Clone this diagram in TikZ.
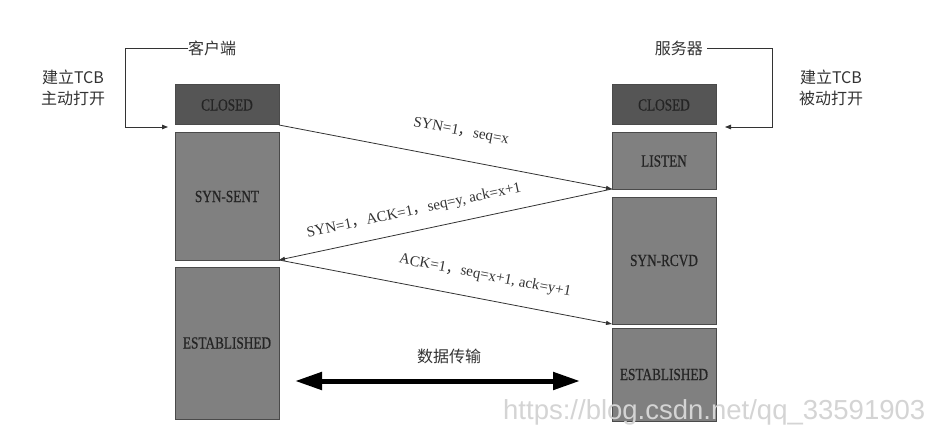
\documentclass[tikz,border=0pt]{standalone}
\usepackage{fontspec}
\setmainfont{Liberation Serif}
\newfontfamily\cjk{Noto Sans CJK SC}
\newfontfamily\boxfont[FakeStretch=0.78,FakeBold=0.6]{Liberation Serif}
\newfontfamily\wmfont{Liberation Sans}
\usetikzlibrary{arrows.meta}
\definecolor{darkbox}{HTML}{555555}
\definecolor{midbox}{HTML}{808080}
\definecolor{boxline}{HTML}{4A4A4A}
\definecolor{boxtxt}{HTML}{242424}
\definecolor{txt}{HTML}{333333}
\definecolor{wm}{HTML}{D4D4D4}
\begin{document}
\begin{tikzpicture}[x=1pt,y=-1pt,
  statebox/.style={draw=boxline, line width=1pt, fill=midbox, minimum width=104pt,
    inner sep=0pt, outer sep=0pt, font=\boxfont\fontsize{17}{17}\selectfont, text=boxtxt},
  closedbox/.style={statebox, fill=darkbox},
  msg/.style={draw=txt, line width=0.8pt, -{Triangle[length=6pt,width=4pt]}},
  msglabel/.style={font=\fontsize{15}{15}\selectfont, text=txt, inner sep=0pt},
  cjklabel/.style={font=\cjk\fontsize{16}{21}\selectfont, text=txt, inner sep=0pt, align=center},
  guide/.style={draw=txt, line width=0.8pt},
  guidearrow/.style={guide, -{Triangle[length=6pt,width=4.5pt]}},
  bigarrow/.style={draw=black, line width=5pt,
    {Triangle[length=27pt,width=17pt]}-{Triangle[length=27pt,width=17pt]}},
  watermark/.style={font=\wmfont\fontsize{27.5}{27.5}\selectfont, text=wm, inner sep=0pt}
]
\useasboundingbox[fill=white] (0,0) rectangle (931,441);

% client boxes
\node[closedbox, minimum height=40pt]  (lc) at (227,105)   {CLOSED};
\node[statebox,  minimum height=127pt] (ls) at (227,196.5) {SYN-SENT};
\node[statebox,  minimum height=152pt] (le) at (227,343)   {ESTABLISHED};
% server boxes
\node[closedbox, minimum height=40pt]  (rc) at (664,105)   {CLOSED};
\node[statebox,  minimum height=56pt]  (rl) at (664,161)   {LISTEN};
\node[statebox,  minimum height=127pt] (rs) at (664,260.5) {SYN-RCVD};
\node[statebox,  minimum height=93pt]  (re) at (664,374.5) {ESTABLISHED};

% headings
\node[cjklabel, anchor=west] (client) at (188,48) {客户端};
\node[cjklabel, anchor=east] (server) at (703,48) {服务器};
\node[cjklabel] (cnote) at (73,88) {建立TCB\\主动打开};
\node[cjklabel] (snote) at (831,88) {建立TCB\\被动打开};

\coordinate (cl1) at (125,48);
\coordinate (cl2) at (125,127);
\coordinate (clt) at (168,127);
\coordinate (sr1) at (772,48);
\coordinate (sr2) at (772,127);
\coordinate (srt) at (725,127);
\draw[guidearrow] (client.west) -- (cl1) -- (cl2) -- (clt);
\draw[guidearrow] ([xshift=4pt]server.east) -- (sr1) -- (sr2) -- (srt);

% handshake messages
\draw[msg] (lc.south east) -- (rl.south west);
\draw[msg] (rl.south west) -- (ls.south east);
\draw[msg] (ls.south east) -- (rs.south west);

\node[msglabel, rotate=-10.7] (m1) at (461,132) {SYN=1{\cjk ，}seq=x};
\node[msglabel, rotate=12.1]  (m2) at (414,211) {SYN=1{\cjk ，}ACK=1{\cjk ，}seq=y, ack=x+1};
\node[msglabel, rotate=-10.9] (m3) at (485,276) {ACK=1{\cjk ，}seq=x+1, ack=y+1};

% data transfer
\node[cjklabel] (data) at (449,356) {数据传输};
\coordinate (dl) at (295,381);
\coordinate (dr) at (580,381);
\draw[bigarrow] (dl) -- (dr);

% watermark
\node[watermark, anchor=west] (wmk) at (503,412) {https://blog.csdn.net/qq\_33591903};
\end{tikzpicture}
\end{document}
